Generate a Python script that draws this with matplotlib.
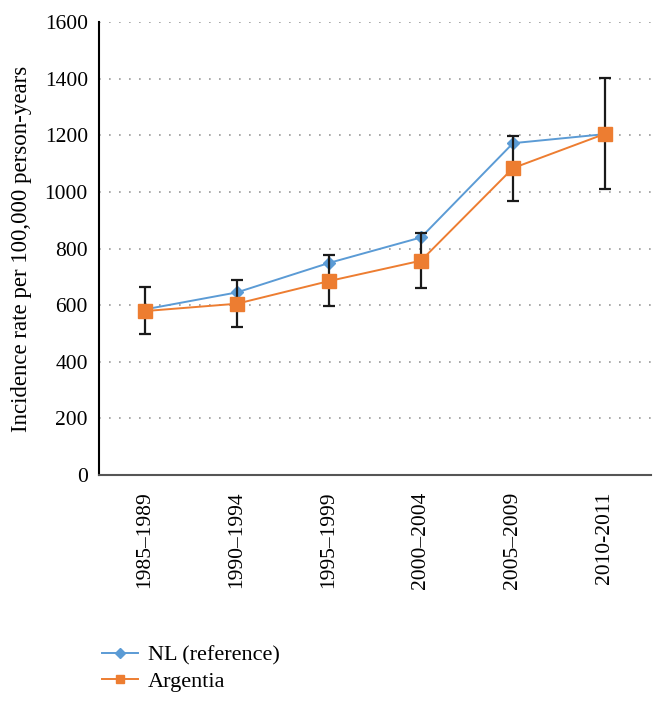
import matplotlib
matplotlib.use("Agg")
import matplotlib.pyplot as plt
from matplotlib.lines import Line2D

periods = ["1985\u20131989", "1990\u20131994", "1995\u20131999", "2000\u20132004", "2005\u20132009", "2010-2011"]
nl_values = [585, 645, 749, 839, 1172, 1204]
arg_values = [579, 605, 685, 757, 1084, 1205]
arg_err_low = [497, 523, 597, 660, 968, 1010]
arg_err_high = [663, 689, 776, 854, 1199, 1403]
yticks = [0, 200, 400, 600, 800, 1000, 1200, 1400, 1600]

plt.rcParams['font.family'] = ['Liberation Serif', 'DejaVu Serif']

fig = plt.figure(figsize=(6.64, 7.01), dpi=100)
W, H = 664, 701
left, right, top, bottom = 99, 651, 22, 475
ax = fig.add_axes([left / W, 1 - bottom / H, (right - left) / W, (bottom - top) / H])

x = list(range(len(periods)))
blue = "#5B9BD5"
orange = "#ED7D31"

yerr = [[a - l for a, l in zip(arg_values, arg_err_low)],
        [h - a for a, h in zip(arg_values, arg_err_high)]]

ax.plot(x, nl_values, color=blue, lw=1.4, marker="D", ms=6, zorder=3)
ax.errorbar(x, arg_values, yerr=yerr, fmt="none", ecolor="#1a1a1a", elinewidth=1.6,
            capsize=4, capthick=1.6, zorder=4)
ax.plot(x, arg_values, color=orange, lw=1.4, marker="s", ms=10, zorder=5)

ax.set_xlim(-0.5, len(periods) - 0.5)
ax.set_ylim(0, 1600)
ax.set_yticks(yticks)
ax.set_yticklabels([str(v) for v in yticks], fontsize=15.5)
ax.set_xticks(x)
ax.set_xticklabels(periods, rotation=90, fontsize=15.5)
ax.tick_params(axis="both", length=0, pad=8)
ax.tick_params(axis="x", pad=12)

ax.grid(axis="y", linestyle=(0, (1, 5)), color="#999999", lw=1.2)
ax.set_axisbelow(True)
for s in ["top", "right"]:
    ax.spines[s].set_visible(False)
ax.spines["left"].set_color("black")
ax.spines["left"].set_linewidth(1.5)
ax.spines["bottom"].set_color("#555555")
ax.spines["bottom"].set_linewidth(1.5)

ax.set_ylabel("Incidence rate per 100,000 person-years", fontsize=16.5, labelpad=9)

handles = [Line2D([0], [0], color=blue, lw=1.4, marker="D", ms=5),
           Line2D([0], [0], color=orange, lw=1.4, marker="s", ms=6)]
fig.legend(handles, ["NL (reference)", "Argentia"], loc="upper left",
           bbox_to_anchor=(91 / W, 1 - 634 / H), frameon=False, fontsize=16,
           handlelength=1.6, labelspacing=0.25, borderpad=0, handletextpad=0.45)

fig.savefig("out.png", dpi=100)
